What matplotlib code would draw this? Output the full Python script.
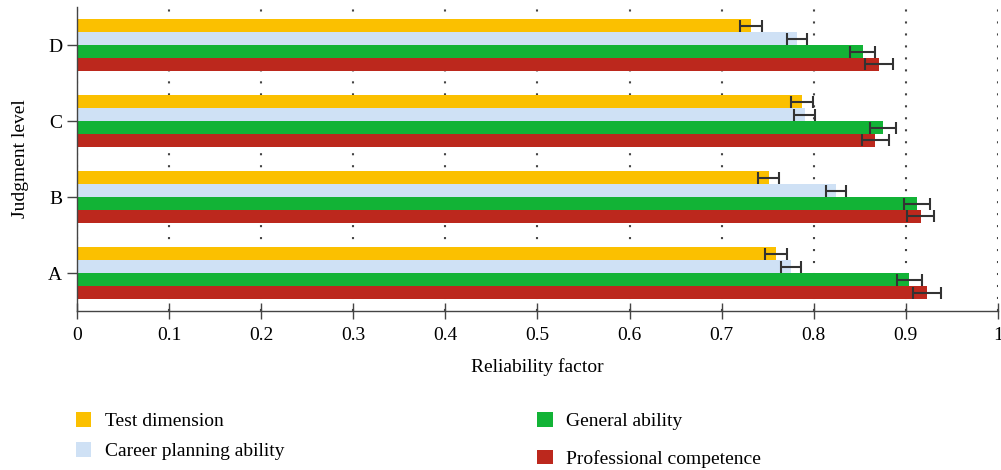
import matplotlib.pyplot as plt
import numpy as np

# Data
levels = ['A', 'B', 'C', 'D']
series = ['Test dimension', 'Career planning ability', 'General ability', 'Professional competence']
colors = ['#FBC000', '#CFE1F5', '#12B336', '#BC281D']

test_dim = [0.759, 0.751, 0.787, 0.732]
career = [0.775, 0.824, 0.790, 0.782]
general = [0.904, 0.912, 0.875, 0.853]
professional = [0.923, 0.916, 0.867, 0.871]

test_err = [0.012, 0.011, 0.012, 0.012]
career_err = [0.011, 0.011, 0.011, 0.011]
general_err = [0.014, 0.014, 0.014, 0.014]
professional_err = [0.015, 0.015, 0.015, 0.015]

values = [test_dim, career, general, professional]
errors = [test_err, career_err, general_err, professional_err]

plt.rcParams['font.family'] = ['Liberation Serif', 'DejaVu Serif']

fig = plt.figure(figsize=(10.01, 4.7), dpi=100)
ax = fig.add_axes([0.0769, 0.338, 0.92, 0.647])

y = np.arange(len(levels))
h = 0.17
offsets = [1.5 * h, 0.5 * h, -0.5 * h, -1.5 * h]

for vals, errs, col, name, off in zip(values, errors, colors, series, offsets):
    ax.barh(y + off, vals, height=h, color=col, label=name, zorder=2)
    ax.errorbar(vals, y + off, xerr=errs, fmt='none', ecolor='#333333',
                elinewidth=1.5, capsize=4.3, capthick=1.5, zorder=3)

ax.set_xlim(0, 1)
ax.set_ylim(-0.5, 3.5)
ax.set_xticks(np.arange(0, 1.01, 0.1))
ax.set_xticklabels(['0', '0.1', '0.2', '0.3', '0.4', '0.5', '0.6', '0.7', '0.8', '0.9', '1'])
ax.set_yticks(y)
ax.set_yticklabels(levels)

ax.set_axisbelow(True)
ax.xaxis.grid(True, color='#444444', linewidth=1.5, linestyle=(0, (1, 4.75)))

for s in ['top', 'right']:
    ax.spines[s].set_visible(False)
for s in ['left', 'bottom']:
    ax.spines[s].set_color('#444444')
    ax.spines[s].set_linewidth(1.0)

ax.tick_params(axis='x', direction='inout', length=11, width=1, colors='#444444',
               labelcolor='black', labelsize=14, pad=6)
ax.tick_params(axis='y', direction='out', length=7, width=1, colors='#444444',
               labelcolor='black', labelsize=14)

ax.set_xlabel('Reliability factor', fontsize=14, labelpad=10)
ax.set_ylabel('Judgment level', fontsize=14, labelpad=14)

# legend in two separate columns below the axes
handles, labels = ax.get_legend_handles_labels()
leg_opts = dict(loc='upper left', frameon=False, fontsize=14, handlelength=0.8,
                handleheight=0.8, handletextpad=0.7, borderaxespad=0)
leg1 = fig.legend(handles[:2], labels[:2], bbox_to_anchor=(0.068, 0.14),
                  labelspacing=0.6, **leg_opts)
leg2 = fig.legend(handles[2:], labels[2:], bbox_to_anchor=(0.529, 0.14),
                  labelspacing=1.0, **leg_opts)

fig.savefig('out.png', dpi=100)
